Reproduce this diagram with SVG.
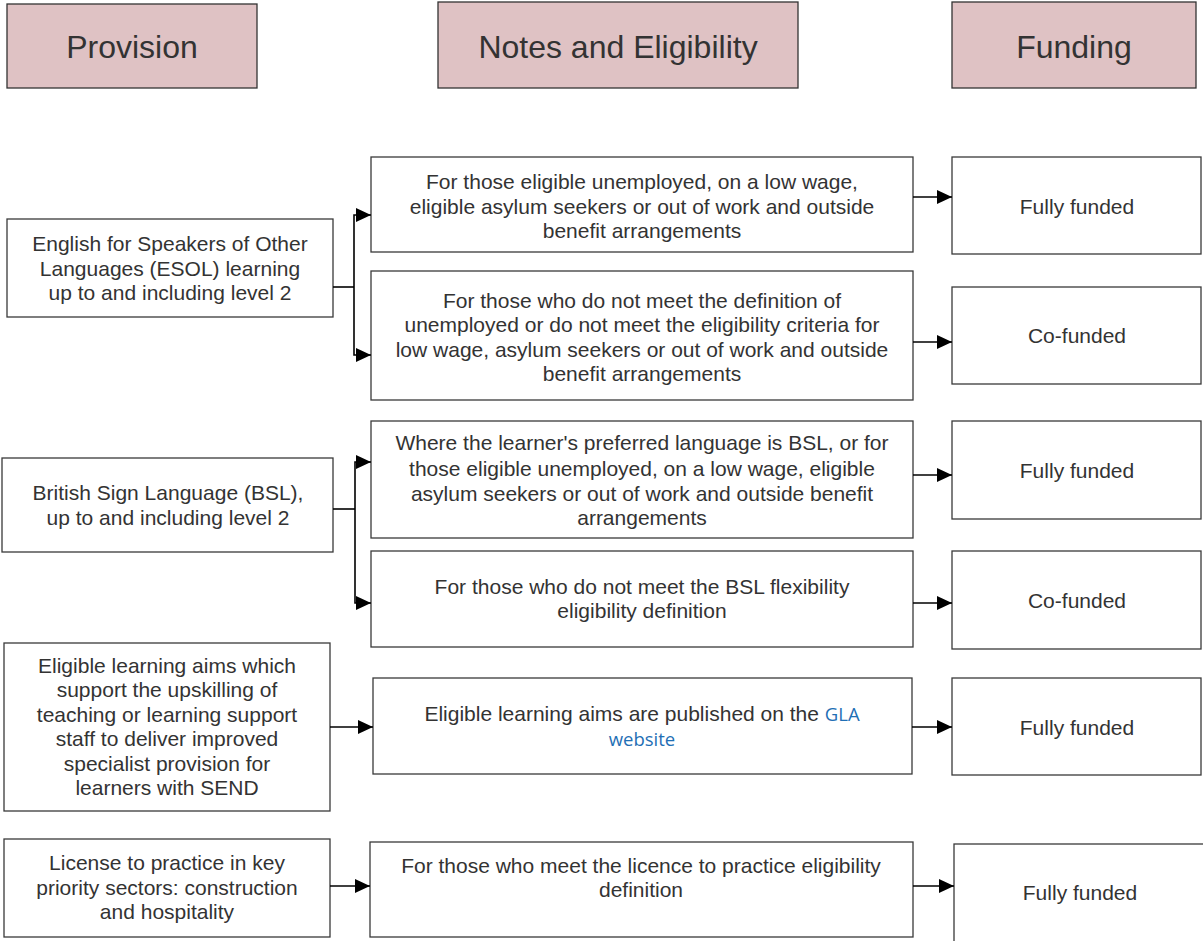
<svg xmlns="http://www.w3.org/2000/svg" width="1203" height="941" viewBox="0 0 1203 941">
<style>
  .hdr rect { fill: #dfc2c4; stroke: #333; stroke-width: 1.3; }
  .hdr text { font-family: "Liberation Sans", Arial, sans-serif; font-size: 32px; fill: #333; text-anchor: middle; }
  .box rect { fill: #fff; stroke: #3a3a3a; stroke-width: 1.3; }
  .box text { font-family: "Liberation Sans", Arial, sans-serif; font-size: 21px; fill: #333; text-anchor: middle; }
  .box .link { fill: #1f6fb5; font-family: "Open Sans", "Noto Sans", sans-serif; font-size: 18.5px; }
  .conn path { fill: none; stroke: #000; stroke-width: 1.6; }
  .conn path.arr { marker-end: url(#ah); }
</style>
<defs>
  <marker id="ah" markerUnits="userSpaceOnUse" markerWidth="16" markerHeight="16" refX="15" refY="7" orient="auto">
    <path d="M0,0 L15,7 L0,14 Z" fill="#000"/>
  </marker>
</defs>
<rect width="1203" height="941" fill="#fff"/>

<g id="hdr-provision" class="hdr"><rect x="7" y="4" width="250" height="84"/><text x="132" y="58">Provision</text></g>
<g id="hdr-notes" class="hdr"><rect x="438" y="2" width="360" height="86"/><text x="618" y="58">Notes and Eligibility</text></g>
<g id="hdr-funding" class="hdr"><rect x="952" y="2" width="244" height="86"/><text x="1074" y="58">Funding</text></g>

<g id="p-esol" class="box"><rect x="7" y="219" width="326" height="98"/>
  <text x="170" y="251">English for Speakers of Other</text>
  <text x="170" y="276">Languages (ESOL) learning</text>
  <text x="170" y="300">up to and including level 2</text></g>
<g id="p-bsl" class="box"><rect x="2" y="458" width="331" height="94"/>
  <text x="168" y="500">British Sign Language (BSL),</text>
  <text x="168" y="525">up to and including level 2</text></g>
<g id="p-send" class="box"><rect x="4" y="643" width="326" height="168"/>
  <text x="167" y="673">Eligible learning aims which</text>
  <text x="167" y="697">support the upskilling of</text>
  <text x="167" y="722">teaching or learning support</text>
  <text x="167" y="746">staff to deliver improved</text>
  <text x="167" y="771">specialist provision for</text>
  <text x="167" y="795">learners with SEND</text></g>
<g id="p-licence" class="box"><rect x="4" y="839" width="326" height="98"/>
  <text x="167" y="870">License to practice in key</text>
  <text x="167" y="895">priority sectors: construction</text>
  <text x="167" y="919">and hospitality</text></g>

<g id="n-esol-full" class="box"><rect x="371" y="157" width="542" height="95"/>
  <text x="642" y="189">For those eligible unemployed, on a low wage,</text>
  <text x="642" y="214">eligible asylum seekers or out of work and outside</text>
  <text x="642" y="238">benefit arrangements</text></g>
<g id="n-esol-co" class="box"><rect x="371" y="271" width="542" height="129"/>
  <text x="642" y="308">For those who do not meet the definition of</text>
  <text x="642" y="332">unemployed or do not meet the eligibility criteria for</text>
  <text x="642" y="357">low wage, asylum seekers or out of work and outside</text>
  <text x="642" y="381">benefit arrangements</text></g>
<g id="n-bsl-full" class="box"><rect x="371" y="421" width="542" height="117"/>
  <text x="642" y="450">Where the learner's preferred language is BSL, or for</text>
  <text x="642" y="476">those eligible unemployed, on a low wage, eligible</text>
  <text x="642" y="501">asylum seekers or out of work and outside benefit</text>
  <text x="642" y="525">arrangements</text></g>
<g id="n-bsl-co" class="box"><rect x="371" y="551" width="542" height="96"/>
  <text x="642" y="594">For those who do not meet the BSL flexibility</text>
  <text x="642" y="618">eligibility definition</text></g>
<g id="n-send" class="box"><rect x="373" y="678" width="539" height="96"/>
  <text x="642" y="721">Eligible learning aims are published on the <tspan class="link">GLA</tspan></text>
  <text x="642" y="746" class="link">website</text></g>
<g id="n-licence" class="box"><rect x="370" y="842" width="543" height="95"/>
  <text x="641" y="873">For those who meet the licence to practice eligibility</text>
  <text x="641" y="897">definition</text></g>

<g id="f-esol-full" class="box"><rect x="952" y="157" width="249" height="97"/><text x="1077" y="214">Fully funded</text></g>
<g id="f-esol-co" class="box"><rect x="952" y="287" width="249" height="97"/><text x="1077" y="343">Co-funded</text></g>
<g id="f-bsl-full" class="box"><rect x="952" y="421" width="249" height="98"/><text x="1077" y="478">Fully funded</text></g>
<g id="f-bsl-co" class="box"><rect x="952" y="551" width="249" height="98"/><text x="1077" y="608">Co-funded</text></g>
<g id="f-send" class="box"><rect x="952" y="678" width="249" height="97"/><text x="1077" y="735">Fully funded</text></g>
<g id="f-licence" class="box"><rect x="954" y="844" width="262" height="110"/><text x="1080" y="900">Fully funded</text></g>

<g id="connectors" class="conn">
  <path d="M333,287 H354"/>
  <path class="arr" d="M354,287 V215 H371"/>
  <path class="arr" d="M354,287 V355 H371"/>
  <path d="M333,509 H355"/>
  <path class="arr" d="M355,509 V462 H371"/>
  <path class="arr" d="M355,509 V603 H371"/>
  <path class="arr" d="M330,727 H373"/>
  <path class="arr" d="M330,886 H370"/>
  <path class="arr" d="M913,197 H952"/>
  <path class="arr" d="M913,342 H952"/>
  <path class="arr" d="M913,475 H952"/>
  <path class="arr" d="M913,603 H952"/>
  <path class="arr" d="M912,727 H952"/>
  <path class="arr" d="M913,886 H954"/>
</g>
</svg>
